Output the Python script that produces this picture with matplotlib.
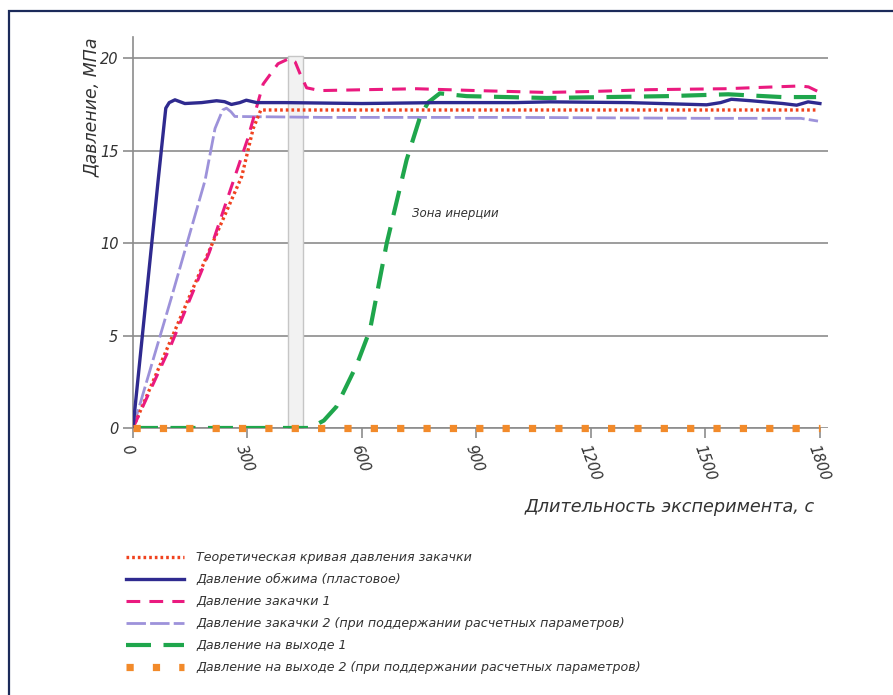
import matplotlib.pyplot as plt
from matplotlib.patches import Rectangle

# --- data (time, s / pressure, MPa) ---
theor_t = [0, 100, 200, 285, 315, 335, 1790]
theor_p = [0, 4.8, 9.6, 13.6, 16.2, 17.2, 17.2]

squeeze_t = [0, 66, 86, 95, 110, 136, 180, 219, 240, 258, 280, 297, 324, 400, 600, 800, 1000,
             1092, 1300, 1503, 1540, 1568, 1620, 1703, 1739, 1769, 1800]
squeeze_p = [0, 13.4, 17.3, 17.6, 17.75, 17.55, 17.6, 17.7, 17.65, 17.5, 17.6, 17.73, 17.6, 17.6, 17.55,
             17.6, 17.6, 17.64, 17.6, 17.48, 17.6, 17.78, 17.7, 17.55, 17.46, 17.64, 17.55]

inj1_t = [0, 100, 200, 267, 300, 341, 380, 411, 425, 437, 455, 490, 612, 743, 900, 1083, 1200, 1354,
          1550, 1748, 1770, 1795]
inj1_p = [0, 4.5, 9.5, 13.6, 15.6, 18.6, 19.7, 20.0, 19.8, 19.2, 18.4, 18.25, 18.3, 18.35, 18.25, 18.15,
          18.2, 18.3, 18.35, 18.5, 18.45, 18.2]

inj2_t = [0, 100, 189, 215, 235, 245, 257, 267, 500, 1000, 1500, 1750, 1795]
inj2_p = [0, 7.0, 13.4, 16.2, 17.2, 17.3, 17.1, 16.85, 16.8, 16.8, 16.75, 16.75, 16.6]

out1_t = [0, 464, 500, 533, 586, 621, 665, 717, 752, 773, 804, 874, 1083, 1400, 1560, 1700, 1790]
out1_p = [0, 0, 0.4, 1.15, 3.4, 5.3, 10.0, 14.5, 16.8, 17.6, 18.1, 17.95, 17.85, 17.95, 18.05, 17.9, 17.9]

out2_t = [0, 1800]
out2_p = [0, 0]

inertia_zone = [406, 445]
inertia_top = 20.1

labels = [
    'Теоретическая кривая давления закачки',
    'Давление обжима (пластовое)',
    'Давление закачки 1',
    'Давление закачки 2 (при поддержании расчетных параметров)',
    'Давление на выходе 1',
    'Давление на выходе 2 (при поддержании расчетных параметров)',
]
xticks = [0, 300, 600, 900, 1200, 1500, 1800]
yticks = [0, 5, 10, 15, 20]

plt.rcParams['font.family'] = ['DejaVu Sans']
plt.rcParams['font.style'] = 'italic'

fig = plt.figure(figsize=(8.93, 6.95), dpi=100)
ax = fig.add_axes([0.1489, 0.3842, 0.7778, 0.5626])

grid_c = '#8c8c8c'
ax.fill_between(inertia_zone, 0, inertia_top, facecolor='#f2f2f2', edgecolor='#c6c6c6', lw=1.0, zorder=1)

l_th, = ax.plot(theor_t, theor_p, color='#f0421e', lw=2.4, ls=(0, (0.8, 0.9)), zorder=4)
l_sq, = ax.plot(squeeze_t, squeeze_p, color='#2f2a8f', lw=2.4, zorder=5)
l_i1, = ax.plot(inj1_t, inj1_p, color='#ea1a7f', lw=2.2, ls=(0, (4.5, 3)), zorder=4)
l_i2, = ax.plot(inj2_t, inj2_p, color='#9d92da', lw=2.0, ls=(0, (7, 1.5)), zorder=3)
l_o1, = ax.plot(out1_t, out1_p, color='#1fa64c', lw=3.0, ls=(0, (6, 3)), zorder=4)
l_o2, = ax.plot(out2_t, out2_p, color='#f28a2a', lw=5.2, ls=(0, (1, 2.65)),
                solid_capstyle='butt', clip_on=False, zorder=6)

ax.set_xlim(0, 1820)
ax.set_ylim(0, 21.15)
ax.set_xticks(xticks)
ax.set_yticks(yticks)
ax.set_xticklabels([str(v) for v in xticks], rotation=-70, ha='left', va='top',
                   rotation_mode='anchor', fontsize=10.5, color='#333333')
ax.set_yticklabels([str(v) for v in yticks], fontsize=10.5, color='#333333')
ax.tick_params(axis='both', colors=grid_c, labelcolor='#333333', length=7, width=1.2)
ax.tick_params(axis='x', pad=4)
ax.yaxis.grid(True, color=grid_c, lw=1.2)
ax.set_axisbelow(True)
for s in ['top', 'right']:
    ax.spines[s].set_visible(False)
ax.spines['left'].set_color(grid_c)
ax.spines['bottom'].set_color(grid_c)
ax.spines['left'].set_linewidth(1.2)
ax.spines['bottom'].set_linewidth(1.2)
ax.spines['bottom'].set_bounds(0, 1800)

fig.text(92 / 893, 1 - 107 / 695, 'Давление, МПа', rotation=90, ha='center', va='center',
         fontsize=12.5, color='#333333')
fig.text(815 / 893, 1 - 507 / 695, 'Длительность эксперимента, с', ha='right', va='center',
         fontsize=12.7, color='#333333')
ax.text(731, 11.6, 'Зона инерции', fontsize=8.5, color='#333333', va='center')

fig.legend([l_th, l_sq, l_i1, l_i2, l_o1, l_o2], labels, loc='upper left',
           bbox_to_anchor=(120 / 893, 1 - 545 / 695), frameon=False, fontsize=9.1,
           handlelength=4.6, handletextpad=0.95, labelspacing=0.71, borderpad=0,
           labelcolor='#333333')

fig.patches.append(Rectangle((9 / 893, -0.1), 1.2, 1 - 11 / 695 + 0.1, transform=fig.transFigure,
                             fill=False, edgecolor='#1b2a5a', lw=1.6))

fig.savefig('out.png', dpi=100)
